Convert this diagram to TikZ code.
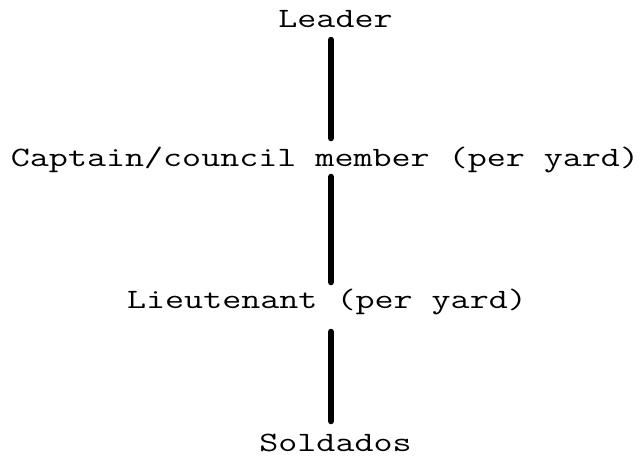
\documentclass[tikz,border=0pt]{standalone}
\usepackage{fontspec}
\usepackage{tikz}

\newcommand{\wide}[1]{\scalebox{1.32}[1]{#1}}

\begin{document}
\begin{tikzpicture}[x=1pt, y=-1pt, font=\fontsize{28}{34}\selectfont\ttfamily]
    \def\lw{6pt}

    \tikzset{rank/.style={
        inner sep=0pt,
        outer sep=0pt,
        text height=20pt,
        text depth=0pt,
        anchor=base
    },
    link/.style={line width=\lw, line cap=round}}

    \useasboundingbox (0,0) rectangle (640,456);

    \coordinate (spine) at (331,0);

    % ranks
    \node[rank] (leader)     at (335.5,27) {\wide{Leader}};
    \node[rank] (captain)    at (325,166)  {\wide{Captain/council member (per yard)}};
    \node[rank] (lieutenant) at (327,308)  {\wide{Lieutenant (per yard)}};
    \node[rank] (soldados)   at (335.5,451) {\wide{Soldados}};

    % links
    \draw[link, shorten <=12.75pt, shorten >=7.75pt] (leader.south -| spine) -- (captain.north -| spine);
    \draw[link, shorten <=10.75pt, shorten >=5.75pt] (captain.south -| spine) -- (lieutenant.north -| spine);
    \draw[link, shorten <=23.75pt, shorten >=9.75pt] (lieutenant.south -| spine) -- (soldados.north -| spine);

\end{tikzpicture}
\end{document}
